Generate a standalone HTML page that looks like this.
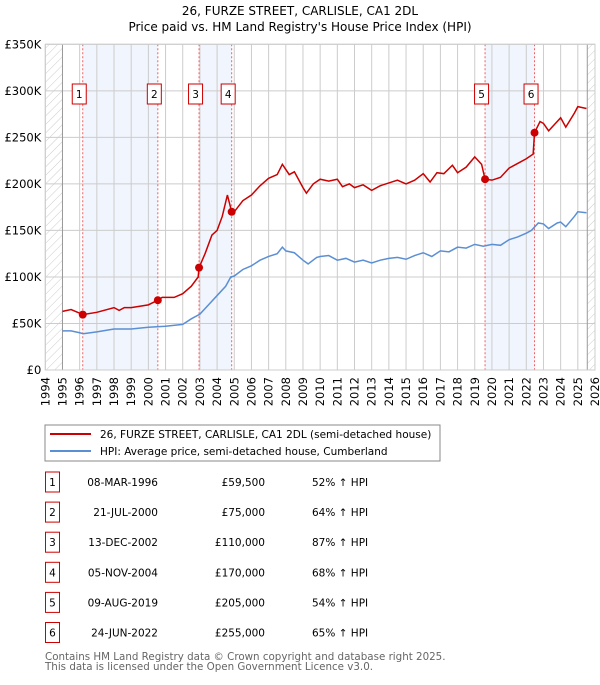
<!DOCTYPE html>
<html><head><meta charset="utf-8"><style>
body{margin:0;background:#fff;font-family:"Liberation Sans","DejaVu Sans",sans-serif}
svg text{font-family:"DejaVu Sans","Liberation Sans",sans-serif}
</style></head><body>
<svg id="c" width="600" height="680" viewBox="0 0 600 680" xmlns="http://www.w3.org/2000/svg">
<defs><pattern id="h" width="6" height="6" patternUnits="userSpaceOnUse" patternTransform="rotate(45)"><line x1="0" y1="0" x2="0" y2="6" stroke="#ccc" stroke-width="1"/></pattern></defs>
<text x="300" y="15" text-anchor="middle" font-size="12">26, FURZE STREET, CARLISLE, CA1 2DL</text>
<text x="300" y="31" text-anchor="middle" font-size="12">Price paid vs. HM Land Registry's House Price Index (HPI)</text>
<g id="plot"></g>
<rect x="45" y="425" width="395" height="36" fill="#fff" stroke="#888"/>
<line x1="50" y1="434" x2="91" y2="434" stroke="#cc0000" stroke-width="2"/>
<text x="100" y="438" font-size="10.5">26, FURZE STREET, CARLISLE, CA1 2DL (semi-detached house)</text>
<line x1="50" y1="451" x2="91" y2="451" stroke="#5b8fd4" stroke-width="2"/>
<text x="100" y="455" font-size="10.5">HPI: Average price, semi-detached house, Cumberland</text>
<g id="tbl"></g>
<text x="45" y="660" font-size="10.3" fill="#666">Contains HM Land Registry data © Crown copyright and database right 2025.</text>
<text x="45" y="670" font-size="10.3" fill="#666">This data is licensed under the Open Government Licence v3.0.</text>
</svg>
<script>
const hpiT=[1995,1995.5,1996,1996.2,1997,1998,1999,2000,2001,2002,2002.5,2003,2003.5,2004,2004.5,2004.8,2005,2005.5,2006,2006.5,2007,2007.5,2007.8,2008,2008.5,2009,2009.3,2009.8,2010,2010.5,2011,2011.5,2012,2012.5,2013,2013.5,2014,2014.5,2015,2015.5,2016,2016.5,2017,2017.5,2018,2018.5,2019,2019.5,2020,2020.5,2021,2021.5,2022,2022.3,2022.7,2023,2023.3,2023.8,2024,2024.3,2024.8,2025,2025.5];
const hpiV=[42,42,40,39,41,44,44,46,47,49,55,60,70,80,90,100,101,108,112,118,122,125,132,128,126,118,114,121,122,123,118,120,116,118,115,118,120,121,119,123,126,122,128,127,132,131,135,133,135,134,140,143,147,150,158,157,152,158,159,154,165,170,169];
const propT=[1995,1995.5,1996,1996.18,1997,1998,1998.3,1998.6,1999,2000,2000.55,2000.8,2001.5,2002,2002.5,2002.9,2002.95,2003.3,2003.7,2004,2004.3,2004.6,2004.85,2005,2005.5,2006,2006.5,2007,2007.5,2007.8,2008.2,2008.5,2009,2009.2,2009.6,2010,2010.5,2011,2011.3,2011.7,2012,2012.5,2013,2013.5,2014,2014.5,2015,2015.5,2016,2016.4,2016.8,2017.2,2017.7,2018,2018.5,2019,2019.4,2019.6,2020,2020.5,2021,2021.5,2022,2022.4,2022.48,2022.8,2023,2023.3,2023.7,2024,2024.3,2024.8,2025,2025.5];
const propV=[63,65,61,59.5,62,67,64,67,67,70,75,78,78,82,90,100,110,125,145,150,165,188,170,170,182,188,198,206,210,221,210,213,196,190,200,205,203,205,197,200,196,199,193,198,201,204,200,204,211,202,212,211,220,212,218,229,221,205,204,207,217,222,227,232,255,267,265,257,265,271,261,276,283,281];
const saleLabels=["1","2","3","4","5","6"];
const saleT=[1996.18,2000.55,2002.95,2004.85,2019.6,2022.48];
const saleV=[59.5,75,110,170,205,255];
const saleDates=["08-MAR-1996","21-JUL-2000","13-DEC-2002","05-NOV-2004","09-AUG-2019","24-JUN-2022"];
const salePrices=["£59,500","£75,000","£110,000","£170,000","£205,000","£255,000"];
const saleHpi=["52% ↑ HPI","64% ↑ HPI","87% ↑ HPI","68% ↑ HPI","54% ↑ HPI","65% ↑ HPI"];
const yTicks=[0,50,100,150,200,250,300,350];
const yTickLabels=["£0","£50K","£100K","£150K","£200K","£250K","£300K","£350K"];
const xYears=[];for(let y=1994;y<=2026;y++)xYears.push(y);

const X0=45.3,X1=595,Y0=370,Y1=44.3,T0=1994,T1=2026,VMAX=350;
const xs=t=>X0+(t-T0)/(T1-T0)*(X1-X0);
const ys=v=>Y0-v/VMAX*(Y0-Y1);
const NS="http://www.w3.org/2000/svg";
function mk(tag,attrs,parent,txt){const e=document.createElementNS(NS,tag);for(const k in attrs)e.setAttribute(k,attrs[k]);if(txt!==undefined)e.textContent=txt;parent.appendChild(e);return e;}
const P=document.getElementById('plot');
let e=mk('rect',{x:X0,y:Y1,width:xs(1995)-X0,height:Y0-Y1,fill:'url(#h)'},P);


e=mk('rect',{x:xs(2025.55),y:Y1,width:X1-xs(2025.55),height:Y0-Y1,fill:'url(#h)'},P);


for(let i=0;i<6;i+=2){e=mk('rect',{x:xs(saleT[i]),y:Y1,width:xs(saleT[i+1])-xs(saleT[i]),height:Y0-Y1,fill:'#eef3fc',opacity:0.8},P);

}
for(const y of xYears){e=mk('line',{x1:xs(y),x2:xs(y),y1:Y1,y2:Y0,stroke:'#ccc','stroke-width':1},P);


e=mk('text',{x:0,y:0,'font-size':11.5,'text-anchor':'end',transform:`translate(${xs(y)+4},${Y0+7}) rotate(-90)`},P,String(y));

}
yTicks.forEach((v,i)=>{e=mk('line',{x1:X0,x2:X1,y1:ys(v),y2:ys(v),stroke:'#ccc','stroke-width':1},P);


e=mk('text',{x:X0-4,y:ys(v)+4,'font-size':11.5,'text-anchor':'end'},P,yTickLabels[i]);

});
e=mk('line',{x1:xs(1995),x2:xs(1995),y1:Y1,y2:Y0,stroke:'#999'},P);


e=mk('line',{x1:xs(2025.55),x2:xs(2025.55),y1:Y1,y2:Y0,stroke:'#999'},P);


saleT.forEach(t=>{e=mk('line',{x1:xs(t),x2:xs(t),y1:Y1,y2:Y0,stroke:'#f06060','stroke-dasharray':'2,2','stroke-width':1},P);

});
e=mk('polyline',{points:hpiT.map((t,i)=>xs(t)+','+ys(hpiV[i])).join(' '),fill:'none',stroke:'#5b8fd4','stroke-width':1.5},P);


e=mk('polyline',{points:propT.map((t,i)=>xs(t)+','+ys(propV[i])).join(' '),fill:'none',stroke:'#cc0000','stroke-width':1.5},P);


saleT.forEach((t,i)=>{e=mk('circle',{cx:xs(t),cy:ys(saleV[i]),r:4,fill:'#cc0000'},P);


e=mk('rect',{x:xs(t)-10.5,y:84,width:14,height:20,fill:'#fff',stroke:'#cc0000'},P);


e=mk('text',{x:xs(t)-3.5,y:98,'font-size':10.5,'text-anchor':'middle'},P,saleLabels[i]);

});
e=mk('rect',{x:X0,y:Y1,width:X1-X0,height:Y0-Y1,fill:'none',stroke:'#ccc'},P);


const T=document.getElementById('tbl');
saleLabels.forEach((l,i)=>{const cy=482+i*30.1;
e=mk('rect',{x:45.5,y:cy-10,width:14,height:20,fill:'#fff',stroke:'#cc0000'},T);


e=mk('text',{x:52.5,y:cy+4,'font-size':10.5,'text-anchor':'middle'},T,l);


e=mk('text',{x:158,y:cy+4,'font-size':10.5,'text-anchor':'end'},T,saleDates[i]);


e=mk('text',{x:265,y:cy+4,'font-size':10.5,'text-anchor':'end'},T,salePrices[i]);


e=mk('text',{x:312,y:cy+4,'font-size':10.5},T,saleHpi[i]);

});
</script>
</body></html>
